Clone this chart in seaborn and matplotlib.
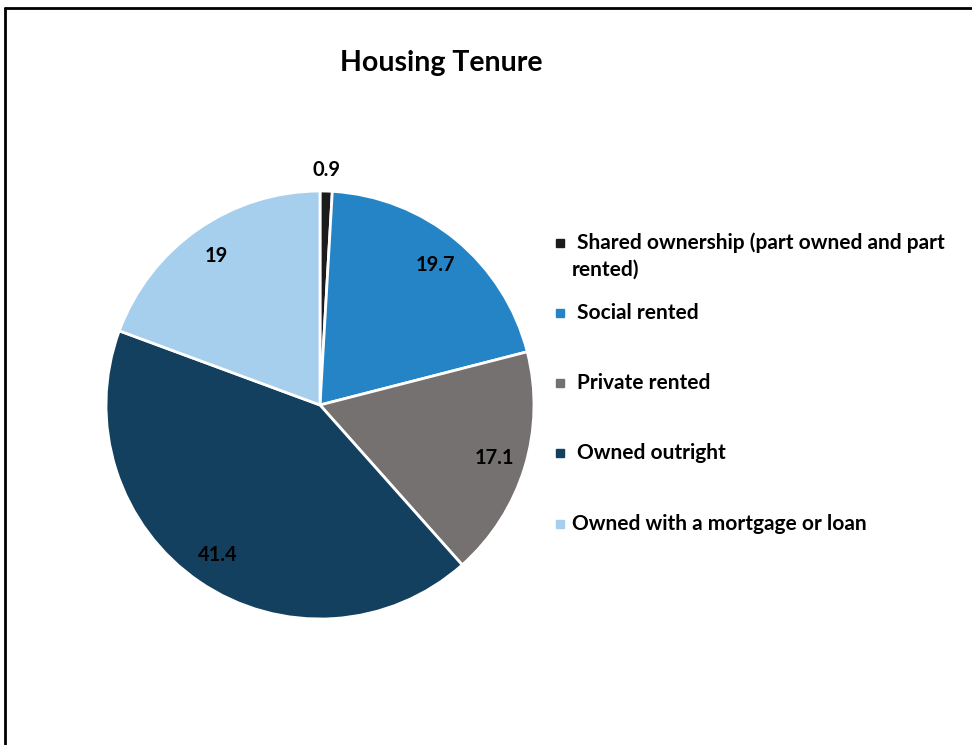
import matplotlib.pyplot as plt
import seaborn as sns
import numpy as np
from matplotlib.lines import Line2D
from matplotlib.patches import Rectangle

# Data
categories = ['Shared ownership (part owned and part\nrented)', 'Social rented',
              'Private rented', 'Owned outright', 'Owned with a mortgage or loan']
values = [0.9, 19.7, 17.1, 41.4, 19]
labels = ['0.9', '19.7', '17.1', '41.4', '19']
colors = ['#1c1c1c', '#2584c6', '#767171', '#14405f', '#a6cfee']

sns.set_style('white')
plt.rcParams['font.family'] = ['Lato', 'DejaVu Sans']
plt.rcParams['text.color'] = 'black'

W, H = 972, 745
fig = plt.figure(figsize=(W / 100, H / 100), dpi=100)

# Pie axes (center ~ (320, 405) px, radius ~ 214 px)
cx, cy, r = 320, 405, 214
ax = fig.add_axes([(cx - r) / W, (H - cy - r) / H, 2 * r / W, 2 * r / H])
wedges, _ = ax.pie(values, colors=colors, startangle=90, counterclock=False,
                   radius=1, wedgeprops=dict(edgecolor='white', linewidth=2))
ax.set_xlim(-1, 1)
ax.set_ylim(-1, 1)
ax.set_aspect('equal')

# Data labels
for w, lab in zip(wedges, labels):
    ang = np.deg2rad((w.theta1 + w.theta2) / 2)
    dist = 1.1 if lab == '0.9' else 0.85
    ax.text(dist * np.cos(ang), dist * np.sin(ang), lab, ha='center', va='center',
            fontsize=14.5, fontweight='bold', color='black')

# Title
fig.text(441 / W, 1 - 63 / H, 'Housing Tenure', ha='center', va='center',
         fontsize=20.5, fontweight='bold')

# Legend drawn manually to keep Excel-like spacing
leg_y = [243, 313, 383, 453, 524]
fs = 15
for col, cat, y in zip(colors, categories, leg_y):
    fig.patches.append(Rectangle((556 / W, 1 - (y + 4) / H), 8 / W, 8 / H,
                                 transform=fig.transFigure, color=col))
    if '\n' in cat:
        first, second = cat.split('\n')
        fig.text(577 / W, 1 - y / H, first, ha='left', va='center',
                 fontsize=fs, fontweight='bold')
        fig.text(572 / W, 1 - (y + 27) / H, second, ha='left', va='center',
                 fontsize=fs, fontweight='bold')
    else:
        x0 = 572 if cat.startswith('Owned with') else 577
        fig.text(x0 / W, 1 - y / H, cat, ha='left', va='center',
                 fontsize=fs, fontweight='bold')

# Chart border (top and left edges visible)
fig.lines.append(Line2D([5 / W, 1], [1 - 8 / H, 1 - 8 / H], transform=fig.transFigure,
                        color='black', linewidth=2))
fig.lines.append(Line2D([5 / W, 5 / W], [0, 1 - 8 / H], transform=fig.transFigure,
                        color='black', linewidth=2))

fig.savefig('out.png', dpi=100)
